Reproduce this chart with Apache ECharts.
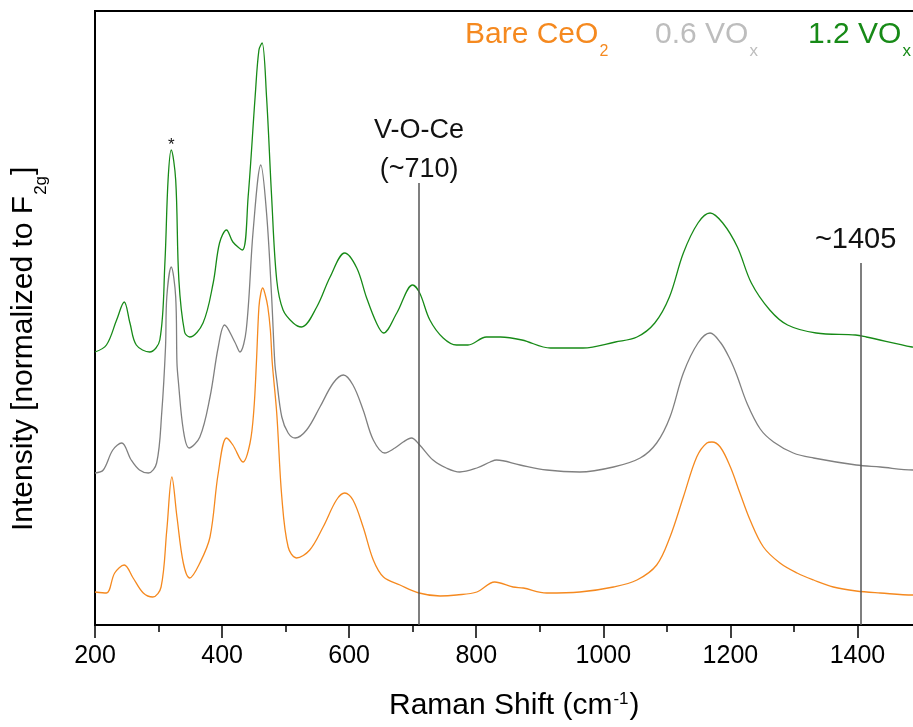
<!DOCTYPE html>
<html>
<head>
<meta charset="utf-8">
<script src="https://cdn.jsdelivr.net/npm/echarts@6/dist/echarts.min.js"></script>
<style>
html, body { margin: 0; padding: 0; background: #fff; }
#chart { width: 913px; height: 727px; }
</style>
</head>
<body>
<div id="chart"></div>
<script>
// Raman spectra (offset for clarity), intensity in arbitrary stacked units
const bareShift = [200,218,231,246,260,276,291,304,313,321,329,339,349,365,381,394,407,417,433,444,450,454,458,461,464,468,472,476,479,486,494,504,517,538,559,580,593,606,622,638,654,680,710,743,769,801,829,858,874,911,963,1016,1053,1084,1105,1126,1147,1163,1171,1184,1200,1215,1231,1252,1278,1305,1331,1362,1398,1436,1488,1500];
const bareInt   = [33,32,52,60,47,32,28,38,95,148,108,62,47,62,88,152,187,180,163,182,215,262,318,332,337,330,318,295,262,212,128,78,67,75,98,125,132,125,98,65,48,40,32,29,30,33,43,38,37,32,33,38,45,60,88,128,168,182,183,178,158,132,105,78,62,52,45,38,34,32,30,30];

const vox06Shift = [200,213,228,242,257,270,284,297,305,311,313,320,327,329,331,339,348,365,381,394,404,420,428,438,449,461,470,478,483,486,494,504,515,533,554,575,591,606,622,638,656,672,685,698,711,732,753,774,801,822,832,869,911,963,1016,1058,1084,1105,1126,1149,1168,1185,1200,1210,1226,1247,1268,1299,1331,1398,1436,1488,1500];
const vox06Int   = [152,155,175,182,165,155,152,162,212,278,328,358,328,262,245,195,177,188,228,278,300,283,273,295,395,460,412,328,262,245,208,192,187,195,218,242,250,240,215,185,172,177,183,187,180,165,157,153,157,163,165,160,155,153,158,167,182,208,252,282,292,282,265,250,222,196,183,172,167,160,158,155,155];

const vox12Shift = [200,218,234,246,255,265,286,302,310,315,320,327,332,341,349,370,386,396,407,417,432,441,452,458,463,470,478,486,496,512,525,549,570,593,612,627,643,654,675,700,711,727,748,769,787,816,838,872,917,968,1019,1053,1081,1104,1126,1149,1168,1188,1211,1233,1262,1290,1335,1397,1414,1486,1500];
const vox12Int   = [273,280,305,323,302,280,273,285,362,445,475,445,345,293,288,302,342,382,395,383,375,428,528,575,582,528,428,345,315,302,298,318,348,372,357,328,302,292,312,340,332,305,287,280,280,288,288,285,277,277,283,288,302,328,372,402,412,402,378,342,315,300,292,290,288,278,277];

// Annotated band positions and the heights their marker lines reach
const markShift = [710, 1405];
const markTop   = [442, 362];
const markText  = ['V-O-Ce\n(~710)', '~1405'];

// Peak flagged with an asterisk
const starShift = 320;
const starInt   = 475;

const FONT = '"Liberation Sans", Arial, sans-serif';
const colors = { bare: '#F5891F', v06: '#808080', v12: '#178A17' };

const zip = (xs, ys) => xs.map((x, i) => [x, ys[i]]);

const chart = echarts.init(document.getElementById('chart'), null, { renderer: 'canvas' });

const lineSeries = (name, data, color, extra) => Object.assign({
  name, type: 'line', data,
  showSymbol: false, symbol: 'none',
  smooth: 0.35,
  lineStyle: { color, width: 1.3 },
  z: 3,
  animation: false
}, extra || {});

chart.setOption({
  animation: false,
  backgroundColor: '#fff',
  grid: { left: 95, right: -8, top: 11, bottom: 102, containLabel: false, outerBoundsMode: 'none',
    show: true, borderColor: '#000', borderWidth: 2, backgroundColor: 'transparent' },
  xAxis: {
    type: 'value', min: 200, max: 1500, interval: 200,
    axisLine: { show: true, onZero: false, lineStyle: { color: '#000', width: 2 } },
    axisTick: { show: true, inside: false, length: 13, lineStyle: { color: '#000', width: 1.5 } },
    minorTick: { show: true, splitNumber: 2, length: 7, lineStyle: { color: '#000', width: 1.5 } },
    axisLabel: { fontSize: 25, fontFamily: FONT, color: '#000', margin: 19, showMaxLabel: false,
      formatter: v => (v >= 1500 ? '' : String(v)) },
    splitLine: { show: false }, minorSplitLine: { show: false }
  },
  yAxis: {
    type: 'value', min: 0, max: 614,
    axisLine: { show: true, lineStyle: { color: '#000', width: 2 } },
    axisTick: { show: false }, axisLabel: { show: false }, splitLine: { show: false }
  },
  series: [
    lineSeries('Bare CeO2', zip(bareShift, bareInt), colors.bare, {
      markLine: {
        silent: true, symbol: 'none', animation: false,
        lineStyle: { color: '#555', width: 1.5, type: 'solid' },
        label: { show: false },
        data: markShift.map((s, i) => [{ coord: [s, 0] }, { coord: [s, markTop[i]] }])
      }
    }),
    lineSeries('0.6 VOx', zip(vox06Shift, vox06Int), colors.v06),
    lineSeries('1.2 VOx', zip(vox12Shift, vox12Int), colors.v12)
  ]
});

// Text helpers: measure widths so subscripts/superscripts follow the base text
const mctx = document.createElement('canvas').getContext('2d');
function tw(t, size) { mctx.font = size + 'px ' + FONT; return mctx.measureText(t).width; }
const MID = 0.3465; // em-box middle above the alphabetic baseline

function txt(text, x, baseline, size, color, align) {
  return { type: 'text', x: x, y: baseline - MID * size, silent: true, z: 10,
    style: { text, font: size + 'px ' + FONT, fill: color, align: align || 'left', verticalAlign: 'middle' } };
}
// base text followed by a lowered (drop > 0) or raised (drop < 0) small script
function scripted(parts, x, baseline, color) {
  const out = []; let cx = x;
  parts.forEach(p => {
    out.push(txt(p.t, cx, baseline + (p.drop || 0), p.size, color));
    cx += tw(p.t, p.size) + (p.gap || 0);
  });
  return out;
}

const graphics = [];
// sample names
graphics.push(...scripted([{ t: 'Bare CeO', size: 30, gap: 1 }, { t: '2', size: 16, drop: 12 }], 465, 45, colors.bare));
graphics.push(...scripted([{ t: '0.6 VO', size: 30, gap: 1 }, { t: 'x', size: 17, drop: 12 }], 655, 45, '#BDBDBD'));
graphics.push(...scripted([{ t: '1.2 VO', size: 30, gap: 1 }, { t: 'x', size: 17, drop: 12 }], 808, 45, colors.v12));

// x-axis title with superscript
graphics.push(...scripted([{ t: 'Raman Shift (cm', size: 30, gap: 1 }, { t: '-1', size: 17, drop: -11, gap: 1 }, { t: ')', size: 30 }], 389, 716, '#000'));

// y-axis title, rotated to read upward
(function () {
  const size = 30, sub = 17;
  const w1 = tw('Intensity [normalized to F', size) + 1;
  const w2 = tw('2g', sub) + 1;
  const mk = (t, lx, s, drop) => ({ type: 'text', x: lx, y: drop - MID * s, silent: true,
    style: { text: t, font: s + 'px ' + FONT, fill: '#000', align: 'left', verticalAlign: 'middle' } });
  graphics.push({
    type: 'group', x: 34, y: 531, rotation: Math.PI / 2, z: 10,
    children: [mk('Intensity [normalized to F', 0, size, 0), mk('2g', w1, sub, 13), mk(']', w1 + w2, size, 0)]
  });
})();

// band annotations centred over their marker lines
const p710 = chart.convertToPixel({ gridIndex: 0 }, [markShift[0], markTop[0]]);
const lines710 = markText[0].split('\n');
graphics.push(txt(lines710[0], p710[0], 139.7, 27, '#111', 'center'));
graphics.push(txt(lines710[1], p710[0], 178.7, 27, '#111', 'center'));
const p1405 = chart.convertToPixel({ gridIndex: 0 }, [markShift[1], markTop[1]]);
graphics.push(txt(markText[1], p1405[0] - 5, 249.7, 29, '#111', 'center'));

// asterisk over the sharp peak
const pStar = chart.convertToPixel({ gridIndex: 0 }, [starShift, starInt]);
graphics.push(txt('*', pStar[0], pStar[1] + 1, 17, '#111', 'center'));

chart.setOption({ graphic: graphics });
</script>
</body>
</html>
